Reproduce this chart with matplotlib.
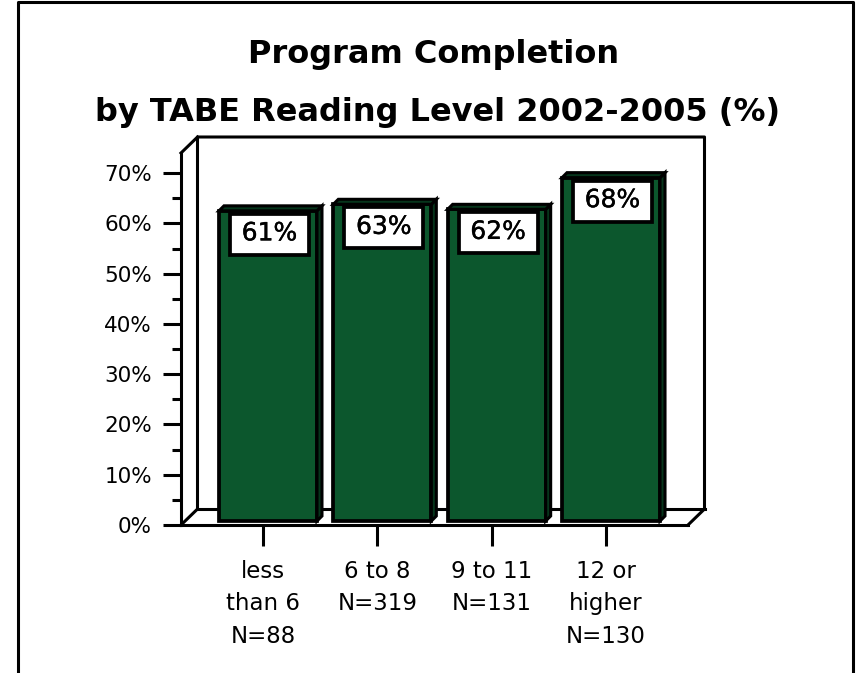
# plot.py
# Requirements: matplotlib
# Run: python plot.py

import matplotlib.pyplot as plt
import matplotlib.patheffects as pe
from matplotlib.patches import Polygon, Rectangle

CHART_FILE = "out.png"

categories = ["less\nthan 6\nN=88", "6 to 8\nN=319", "9 to 11\nN=131", "12 or\nhigher\nN=130"]
bar_values = [61.7, 63.0, 62.0, 68.3]
bar_labels = ["61%", "63%", "62%", "68%"]
y_ticks = [0, 10, 20, 30, 40, 50, 60, 70]
y_minor = [5, 15, 25, 35, 45, 55, 65]

GREEN = "#0c572d"
DARK = "#06351b"
LW = 2.2
BAR_LW = 2.7

W, H = 860, 673
plt.rcParams["font.family"] = ["DejaVu Sans"]

fig = plt.figure(figsize=(W / 100, H / 100), dpi=100)
ax = fig.add_axes([181 / W, 1 - 525 / H, (688 - 181) / W, (525 - 153) / H])
ax.set_xlim(-0.717, 3.717)
ax.set_ylim(0, 74)
ax.patch.set_visible(False)

# one pixel in data units
px = 4.434 / (688 - 181)
py = 74 / (525 - 153)

for s in ["top", "right"]:
    ax.spines[s].set_visible(False)
for s in ["left", "bottom"]:
    ax.spines[s].set_linewidth(LW)

ax.set_yticks(y_ticks)
ax.set_yticklabels([f"{v}%" for v in y_ticks], fontsize=15.5)
ax.set_yticks(y_minor, minor=True)
ax.set_xticks(range(len(categories)))
ax.set_xticklabels(categories, fontsize=16.5, linespacing=1.54)
ax.tick_params(axis="y", which="major", length=13, width=LW, pad=8)
ax.tick_params(axis="y", which="minor", length=6.5, width=LW)
ax.tick_params(axis="x", which="major", length=15, width=LW, pad=10)

# back walls and floor
x0, x1 = ax.get_xlim()
y1 = ax.get_ylim()[1]
dx, dy = 16.5 * px, 16 * py
wall = dict(color="black", lw=LW, clip_on=False, solid_capstyle="projecting", zorder=1)
ax.plot([x0, x0 + dx, x0 + dx, x1 + dx, x1 + dx, x1], [0, dy, y1 + dy, y1 + dy, dy, 0], **wall)
ax.plot([x0, x0 + dx], [y1, y1 + dy], **wall)
ax.plot([x0 + dx, x1 + dx], [dy, dy], **wall)

# bars with a small 3d side and top
bar_w = 98 * px
shift = 5 * px
base = 4 * py
depth_x, depth_y = 5 * px, 5 * py
for i, v in enumerate(bar_values):
    left = i + shift - bar_w / 2
    right = left + bar_w
    ax.bar(i + shift, v, width=bar_w, bottom=base, color=GREEN, edgecolor="black", linewidth=BAR_LW, zorder=3)
    top = base + v
    ax.add_patch(Polygon([(right, base), (right + depth_x, base + depth_y), (right + depth_x, top + depth_y), (right, top)],
                         facecolor=DARK, edgecolor="black", lw=LW, clip_on=False, zorder=3))
    ax.add_patch(Polygon([(left, top), (left + depth_x, top + depth_y), (right + depth_x, top + depth_y), (right, top)],
                         facecolor=DARK, edgecolor="black", lw=LW, clip_on=False, zorder=3))
    # white value box hanging below the bar top
    box_x = i + 6.5 * px - 39.5 * px
    box_top = top - 3 * py
    ax.add_patch(Rectangle((box_x, box_top - 41 * py), 79 * px, 41 * py, facecolor="white",
                           edgecolor="black", lw=BAR_LW, clip_on=False, zorder=4))
    ax.text(box_x + 39.5 * px, box_top - 19.5 * py, bar_labels[i], ha="center", va="center",
            fontsize=18, zorder=5, path_effects=[pe.withStroke(linewidth=0.3, foreground="black")])

# outer frame, open at the bottom
fig.add_artist(plt.Line2D([17.5 / W, 17.5 / W, 852.5 / W, 852.5 / W], [0, 1 - 1.5 / H, 1 - 1.5 / H, 0], color="black", lw=LW))

fig.text(434 / W, 1 - 54 / H, "Program Completion", ha="center", va="center", fontsize=23, fontweight="bold")
fig.text(438 / W, 1 - 112 / H, "by TABE Reading Level 2002-2005 (%)", ha="center", va="center", fontsize=23, fontweight="bold")

fig.savefig(CHART_FILE, dpi=100)
